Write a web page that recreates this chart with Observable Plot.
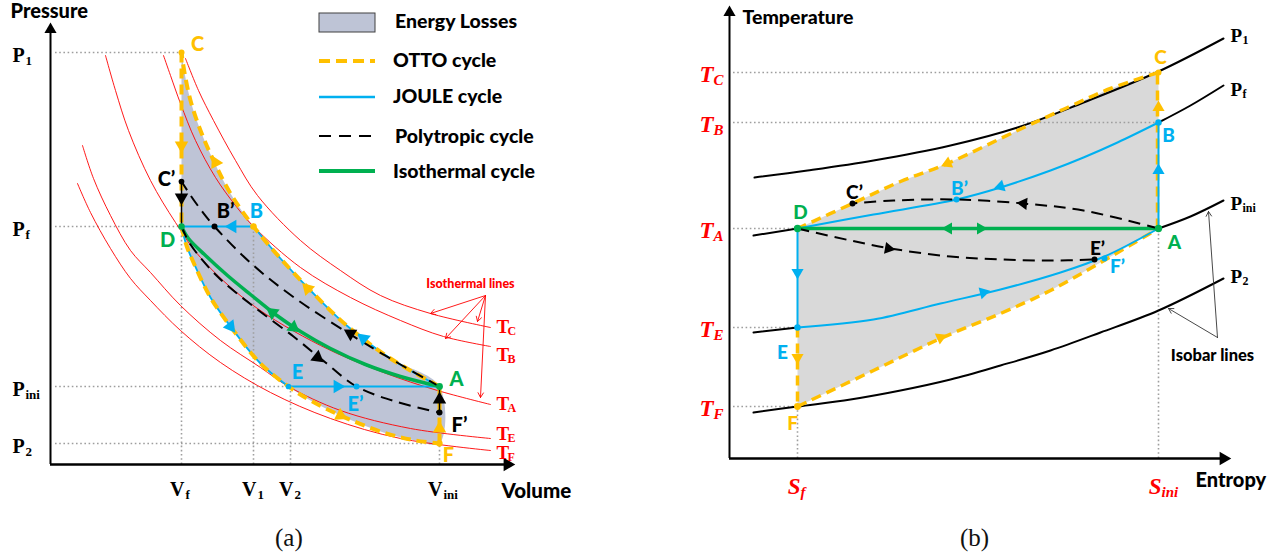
<!DOCTYPE html>
<html><head><meta charset="utf-8">
<script src="https://cdn.jsdelivr.net/npm/d3@7"></script>
<script src="https://cdn.jsdelivr.net/npm/@observablehq/plot@0.6"></script>
<style>
body{margin:0;width:1278px;height:557px;background:#fff;position:relative;overflow:hidden;font-family:Lato,sans-serif;}
#left{position:absolute;left:0;top:0;}
#right{position:absolute;left:640px;top:0;}
#legend{position:absolute;left:0;top:0;}
.cap{position:absolute;top:524px;font-family:"Liberation Serif",serif;font-size:25px;color:#111;}
</style></head><body>
<div id="left"></div><div id="right"></div>
<svg id="legend" width="640" height="190" style="font-family:Lato,sans-serif;font-weight:900;font-size:19.5px">
  <rect x="319" y="13" width="56" height="19" fill="#BEC4D6" stroke="#404040" stroke-width="1"/>
  <text x="395" y="28">Energy Losses</text>
  <line x1="319" x2="375" y1="61" y2="61" stroke="#FFC000" stroke-width="4" stroke-dasharray="11,6"/>
  <text x="393" y="67">OTTO cycle</text>
  <line x1="319" x2="375" y1="97" y2="97" stroke="#00B0F0" stroke-width="2.5"/>
  <text x="393" y="103">JOULE cycle</text>
  <line x1="319" x2="375" y1="136" y2="136" stroke="#000" stroke-width="2" stroke-dasharray="12,8"/>
  <text x="395" y="143">Polytropic cycle</text>
  <line x1="319" x2="375" y1="171" y2="171" stroke="#00B050" stroke-width="4"/>
  <text x="393" y="178">Isothermal cycle</text>
</svg>
<div class="cap" style="left:275px">(a)</div>
<div class="cap" style="left:960px">(b)</div>
<script>
// ================= DATA: (a) Pressure–Volume diagram (arbitrary units) =================
const pvTickP = [412, 238, 78, 21];
const pvTickPSub = ["1", "f", "ini", "2"];
const pvTickPRef = ["C", "D", "E", "F"];
const pvTickV = [131, 203, 240, 389];
const pvTickVSub = ["f", "1", "2", "ini"];
const pvTickVRef = ["D", "B", "E", "F"];

const pvPointName = ["C", "D", "B", "B’", "C’", "A", "E", "E’", "F’", "F"];
const pvPointV = [131, 131, 203, 164, 131, 389, 238, 306, 389, 389];
const pvPointP = [412, 238, 238, 238, 283, 78, 78, 78, 52, 21];

// adiabat A -> C (upper boundary)
const upperV = [389, 340, 295, 260, 230, 203, 180, 163, 150, 140, 134, 131];
const upperP = [78, 106, 140, 174, 206, 238, 271, 304, 334, 364, 392, 412];
// adiabat D -> F (lower boundary)
const lowerV = [131, 136, 143, 160, 183, 210, 238, 260, 290, 333, 365, 389];
const lowerP = [238, 219, 202, 167, 134, 101, 78, 64, 49, 32, 24, 21];
// polytropic A -> B' -> C'
const polyUpV = [389, 350, 300, 245, 203, 164, 145, 131];
const polyUpP = [78, 100, 130, 166, 199, 238, 262, 283];
// polytropic D -> E' -> F'
const polyLoV = [131, 140, 167, 203, 243, 275, 306, 345, 389];
const polyLoP = [238, 220, 188, 158, 128, 102, 78, 63, 52];
// isothermal D -> A
const isoDAV = [131, 138, 155, 177, 200, 225, 250, 280, 315, 350, 389];
const isoDAP = [238, 226, 209, 189, 170, 150, 133, 116, 100, 88, 78];

// red isothermal lines
const isoTCV = [135, 148, 163, 185, 207, 250, 290, 330, 380, 440];
const isoTCP = [406, 374, 344, 304, 269, 224, 194, 169, 151, 137];
const isoTBV = [113, 120, 130, 145, 165, 185, 203, 250, 300, 350, 393, 440];
const isoTBP = [409, 389, 361, 324, 287, 259, 238, 197, 167, 144, 128, 118];
const isoTAV = [55, 65, 78, 100, 125, 150, 200, 270, 333, 387, 440];
const isoTAP = [409, 374, 334, 284, 242, 207, 161, 119, 92, 74, 60];
const isoTEV = [32, 43, 60, 80, 100, 130, 170, 210, 238, 290, 360, 440];
const isoTEP = [319, 286, 249, 214, 192, 159, 124, 97, 78, 54, 36, 26];
const isoTFV = [27, 40, 60, 80, 100, 130, 170, 220, 280, 350, 440];
const isoTFP = [281, 252, 216, 186, 164, 134, 102, 72, 46, 26, 14];
const isoLabelSub = ["C", "B", "A", "E", "F"];
const isoLabelP = [138, 110, 61, 31, 12];

// direction arrows (position + heading in degrees, clockwise from up)
const pvArrowCycle = ["otto","otto","otto","otto","otto","joule","joule","joule","joule","poly","poly","poly","poly","iso","iso"];
const pvArrowV = [131, 165, 257, 290, 389, 182, 313, 180, 287, 131, 389, 300, 267, 222, 243];
const pvArrowP = [319, 302, 176, 49, 36, 238, 126, 138, 78, 267, 65, 131, 107, 152, 137];
const pvArrowDir = [180, 333, 316, 117, 0, 270, 310, 142, 90, 180, 0, 301, 128, 307, 127];

// ================= DATA: (b) Temperature–Entropy diagram (arbitrary units) =================
const tsTickT = [386, 336, 230, 131, 52];
const tsTickTSub = ["C", "B", "A", "E", "F"];
const tsTickTRef = ["C", "B", "D", "E", "F"];
const tsTickS = [68, 429];
const tsTickSSub = ["f", "ini"];
const tsTickSRef = ["F", "A"];

const tsPointName = ["C", "B", "A", "D", "E", "F", "C’", "B’", "E’", "F’"];
const tsPointS = [429, 429, 429, 68, 68, 68, 123, 227, 365, 375];
const tsPointT = [386, 336, 230, 230, 131, 52, 255, 259, 199, 200];

// isobars
const isoP1S = [25, 78, 144, 221, 288, 354, 429, 494];
const isoP1T = [281, 288, 298, 313, 331, 356, 387, 420];
const isoPfLeftS = [24, 68], isoPfLeftT = [223, 230];
const isoPfRightS = [429, 461, 494], isoPfRightT = [336, 353, 373];
const isoPiniLeftS = [24, 68], isoPiniLeftT = [126, 131];
const isoPiniRightS = [429, 461, 494], isoPiniRightT = [230, 242, 258];
const isoP2S = [24, 68, 121, 171, 221, 271, 321, 371, 429, 494];
const isoP2T = [46, 52, 59, 68, 79, 93, 108, 126, 148, 180];
const isobarSub = ["1", "f", "ini", "2"];
const isobarLabelT = [423, 369, 255, 182];

// Joule (cyan) B -> D and E -> A
const jouleBDS = [429, 388, 354, 321, 271, 227, 144, 68];
const jouleBDT = [336, 316, 301, 288, 271, 259, 244, 230];
const jouleEAS = [68, 144, 211, 271, 331, 375, 429];
const jouleEAT = [131, 139, 155, 169, 186, 202, 230];
// Otto (orange) C -> D and F -> A
const ottoCDS = [429, 381, 338, 288, 218, 171, 123, 68];
const ottoCDT = [386, 370, 351, 328, 295, 277, 255, 230];
const ottoFAS = [68, 144, 211, 271, 321, 371, 429];
const ottoFAT = [52, 88, 120, 145, 168, 196, 230];
// polytropic (black dashed)
const polyTsUpS = [429, 354, 294, 227, 164, 123];
const polyTsUpT = [230, 248, 255, 259, 258, 255];
const polyTsLoS = [68, 121, 161, 221, 271, 321, 365];
const polyTsLoT = [230, 218, 210, 202, 199, 198, 199];

const tsArrowCycle = ["otto","otto","otto","otto","joule","joule","joule","joule","poly","poly","iso","iso"];
const tsArrowS = [218, 429, 68, 211, 429, 68, 271, 254, 294, 159, 219, 251];
const tsArrowT = [295, 351, 101, 121, 288, 186, 272, 166, 255, 210, 230, 230];
const tsArrowDir = [246, 0, 180, 66, 0, 180, 253, 76, 276, 100, 270, 90];

// ================= STYLE =================
const ORANGE = "#FFC000", CYAN = "#00B0F0", GREEN = "#00B050", RED = "#FF0000", GUIDE = "#9E9E9E";
const SERIF = "Liberation Serif, serif", SANS = "Lato, sans-serif";
const cycleColor = {otto: ORANGE, joule: CYAN, poly: "#000", iso: GREEN};
const pvPointStyle = {
  "C": {fill: ORANGE, r: 5, color: ORANGE, dx: 16, dy: -8},
  "D": {fill: GREEN, r: 6, color: GREEN, dx: -14, dy: 14},
  "B": {fill: ORANGE, r: 6, color: CYAN, dx: 3, dy: -15},
  "B’": {fill: "#000", r: 5, color: "#000", dx: 11, dy: -15},
  "C’": {fill: "#000", r: 4.5, color: "#000", dx: -15, dy: -2},
  "A": {fill: GREEN, r: 6.5, color: GREEN, dx: 17, dy: -7},
  "E": {fill: CYAN, r: 4.5, color: CYAN, dx: 9, dy: -14},
  "E’": {fill: CYAN, r: 5, color: CYAN, dx: -1, dy: 18},
  "F’": {fill: "#000", r: 5, color: "#000", dx: 20, dy: 13},
  "F": {fill: ORANGE, r: 5.5, color: ORANGE, dx: 9, dy: 12}
};
const tsPointStyle = {
  "C": {fill: ORANGE, r: 3, color: ORANGE, dx: 2, dy: -15},
  "B": {fill: CYAN, r: 3.5, color: CYAN, dx: 10, dy: 13},
  "A": {fill: GREEN, r: 4.5, color: GREEN, dx: 16, dy: 14},
  "D": {fill: GREEN, r: 4.5, color: GREEN, dx: 3, dy: -16},
  "E": {fill: CYAN, r: 3.5, color: CYAN, dx: -15, dy: 25},
  "F": {fill: ORANGE, r: 4, color: ORANGE, dx: -5, dy: 17},
  "C’": {fill: "#000", r: 3, color: "#000", dx: 2, dy: -11},
  "B’": {fill: CYAN, r: 3, color: CYAN, dx: 3, dy: -11},
  "E’": {fill: "#000", r: 3, color: "#000", dx: 3, dy: -11},
  "F’": {fill: CYAN, r: 3, color: CYAN, dx: 13, dy: 8}
};

// ================= HELPERS =================
const pts = (xs, ys) => xs.map((x, i) => ({x, y: ys[i]}));
const seg = (name, xs, ys) => xs.map((x, i) => ({seg: name, x, y: ys[i]}));
const rev = a => a.slice().reverse();

// ================= (a) =================
const pvPoints = pvPointName.map((n, i) => ({name: n, x: pvPointV[i], y: pvPointP[i], ...pvPointStyle[n]}));
const pvAt = n => pvPoints.find(p => p.name === n);
const pvFill = [...rev(pts(upperV, upperP)), ...rev(pts(lowerV, lowerP))];
const ottoPV = [
  ...seg("CD", [pvAt("C").x, pvAt("D").x], [pvAt("C").y, pvAt("D").y]),
  ...seg("DF", lowerV, lowerP),
  ...seg("FA", [pvAt("F").x, pvAt("A").x], [pvAt("F").y, pvAt("A").y]),
  ...seg("AC", upperV, upperP)
];
const bIdx = upperV.indexOf(pvAt("B").x), eIdx = lowerV.indexOf(pvAt("E").x);
const joulePV = [
  ...seg("AB", upperV.slice(0, bIdx + 1), upperP.slice(0, bIdx + 1)),
  ...seg("BD", [pvAt("B").x, pvAt("D").x], [pvAt("B").y, pvAt("D").y]),
  ...seg("DE", lowerV.slice(0, eIdx + 1), lowerP.slice(0, eIdx + 1)),
  ...seg("EA", [pvAt("E").x, pvAt("A").x], [pvAt("E").y, pvAt("A").y])
];
const polyPV = [...seg("up", polyUpV, polyUpP), ...seg("lo", polyLoV, polyLoP)];
const polyVertPV = [
  ...seg("CD", [pvAt("C’").x, pvAt("D").x], [pvAt("C’").y, pvAt("D").y]),
  ...seg("FA", [pvAt("F’").x, pvAt("A").x], [pvAt("F’").y, pvAt("A").y])
];
const redIso = [
  ...seg("C", isoTCV, isoTCP), ...seg("B", isoTBV, isoTBP), ...seg("A", isoTAV, isoTAP),
  ...seg("E", isoTEV, isoTEP), ...seg("F", isoTFV, isoTFP)
];
const pvArrows = pvArrowV.map((v, i) => ({x: v, y: pvArrowP[i], dir: pvArrowDir[i], c: cycleColor[pvArrowCycle[i]]}));
const pvHGuides = pvTickP.map((p, i) => ({y: p, x1: 5, x2: pvAt(pvTickPRef[i]).x}));
const pvVGuides = pvTickV.map((v, i) => ({x: v, y1: 0, y2: pvAt(pvTickVRef[i]).y}));
const pvTicksP = pvTickP.map((p, i) => ({y: p, sub: pvTickPSub[i]}));
const pvTicksV = pvTickV.map((v, i) => ({x: v, sub: pvTickVSub[i]}));
const isoLabels = isoLabelP.map((p, i) => ({y: p, sub: isoLabelSub[i]}));
// annotation: "Isothermal lines" pointing at curves
const isoNoteFrom = {x: 435, y: 169};
const isoNoteTo = [{x: 380, y: 151}, {x: 427, y: 143}, {x: 395, y: 126}, {x: 430, y: 67}];

const pvMaxV = 462, pvMaxP = 439;
const left = Plot.plot({
  width: 640, height: 520, margin: 0,
  x: {domain: [-50, 590], axis: null},
  y: {domain: [-56, 464], axis: null},
  style: {fontFamily: SANS, overflow: "visible"},
  marks: [
    Plot.line(pvFill, {x: "x", y: "y", fill: "#BEC4D6", stroke: "none", curve: "catmull-rom"}),
    Plot.ruleY(pvHGuides, {y: "y", x1: "x1", x2: "x2", stroke: GUIDE, strokeWidth: 1.6, strokeDasharray: "1.6,2.6"}),
    Plot.ruleX(pvVGuides, {x: "x", y1: "y1", y2: "y2", stroke: GUIDE, strokeWidth: 1.6, strokeDasharray: "1.6,2.6"}),
    Plot.line(redIso, {x: "x", y: "y", z: "seg", stroke: RED, strokeWidth: 0.9, curve: "catmull-rom"}),
    Plot.line(joulePV, {x: "x", y: "y", z: "seg", stroke: CYAN, strokeWidth: 1.8, curve: "catmull-rom"}),
    Plot.line(ottoPV, {x: "x", y: "y", z: "seg", stroke: ORANGE, strokeWidth: 4, strokeDasharray: "10,6", strokeLinecap: "butt", curve: "catmull-rom"}),
    Plot.line(pts(isoDAV, isoDAP), {x: "x", y: "y", stroke: GREEN, strokeWidth: 3.5, curve: "catmull-rom"}),
    Plot.line(polyPV, {x: "x", y: "y", z: "seg", stroke: "#000", strokeWidth: 2, strokeDasharray: "12,7", strokeLinecap: "butt", curve: "catmull-rom"}),
    Plot.line(polyVertPV, {x: "x", y: "y", z: "seg", stroke: "#000", strokeWidth: 1.5}),
    Plot.dot(pvArrows, {x: "x", y: "y", symbol: "triangle", r: 5, fill: "c", rotate: "dir", stroke: null}),
    Plot.dot(pvPoints, {x: "x", y: "y", r: "r", fill: "fill", stroke: null}),
    Plot.text(pvPoints, {x: "x", y: "y", text: "name", fill: "color", fontSize: 20, fontWeight: 900}),
    // axes
    Plot.ruleX([0], {y1: 0, y2: pvMaxP, strokeWidth: 2}),
    Plot.ruleY([0], {x1: 0, x2: pvMaxV, strokeWidth: 2.5}),
    Plot.dot([{x: 0, y: pvMaxP - 4}], {x: "x", y: "y", symbol: "triangle", r: 4.5, fill: "#000", stroke: null}),
    Plot.dot([{x: pvMaxV - 5, y: 0}], {x: "x", y: "y", symbol: "triangle", r: 5, fill: "#000", rotate: 90, stroke: null}),
    Plot.text(["Pressure"], {x: -40, y: 453, textAnchor: "start", fontSize: 20, fontWeight: 900}),
    Plot.text(["Volume"], {x: 451, y: -27, textAnchor: "start", fontSize: 20.5, fontWeight: 900}),
    // tick labels
    Plot.text(pvTicksP, {y: "y", text: () => "P", frameAnchor: "left", dx: 12, dy: 3, textAnchor: "start", fontFamily: SERIF, fontWeight: 700, fontSize: 20, fontStyle: d => d.sub === "2" ? "italic" : "normal"}),
    Plot.text(pvTicksP, {y: "y", text: "sub", frameAnchor: "left", dx: 25, dy: 8, textAnchor: "start", fontFamily: SERIF, fontWeight: 700, fontSize: 13}),
    Plot.text(pvTicksV, {x: "x", y: () => -25, text: () => "V", dx: 3, textAnchor: "end", fontFamily: SERIF, fontWeight: 700, fontSize: 20}),
    Plot.text(pvTicksV, {x: "x", y: () => -25, text: "sub", dx: 4, dy: 5, textAnchor: "start", fontFamily: SERIF, fontWeight: 700, fontSize: 13}),
    // isothermal annotation
    Plot.arrow(isoNoteTo, {x1: isoNoteFrom.x, y1: isoNoteFrom.y, x2: "x", y2: "y", stroke: RED, strokeWidth: 0.9, headLength: 9}),
    Plot.text(["Isothermal lines"], {x: 420, y: 181, fill: RED, fontSize: 12.5, fontWeight: 900}),
    Plot.text(isoLabels, {x: () => 446, y: "y", text: () => "T", textAnchor: "start", fill: RED, fontFamily: SERIF, fontWeight: 700, fontSize: 19}),
    Plot.text(isoLabels, {x: () => 457, y: "y", text: "sub", dy: 5, textAnchor: "start", fill: RED, fontFamily: SERIF, fontWeight: 700, fontSize: 12})
  ]
});
document.getElementById("left").append(left);

// ================= (b) =================
const tsPoints = tsPointName.map((n, i) => ({name: n, x: tsPointS[i], y: tsPointT[i], ...tsPointStyle[n]}));
const tsAt = n => tsPoints.find(p => p.name === n);
const tsFill = [...pts(ottoCDS, ottoCDT), ...pts(ottoFAS, ottoFAT)];
const isobars = [
  ...seg("P1", isoP1S, isoP1T), ...seg("PfL", isoPfLeftS, isoPfLeftT), ...seg("PfR", isoPfRightS, isoPfRightT),
  ...seg("PiL", isoPiniLeftS, isoPiniLeftT), ...seg("PiR", isoPiniRightS, isoPiniRightT), ...seg("P2", isoP2S, isoP2T)
];
const ottoTS = [
  ...seg("CD", ottoCDS, ottoCDT),
  ...seg("EF", [tsAt("E").x, tsAt("F").x], [tsAt("E").y, tsAt("F").y]),
  ...seg("FA", ottoFAS, ottoFAT),
  ...seg("AC", [tsAt("A").x - 1, tsAt("C").x - 1], [tsAt("A").y, tsAt("C").y])
];
const jouleTS = [
  ...seg("AB", [tsAt("A").x, tsAt("B").x], [tsAt("A").y, tsAt("B").y]),
  ...seg("BD", jouleBDS, jouleBDT),
  ...seg("DE", [tsAt("D").x, tsAt("E").x], [tsAt("D").y, tsAt("E").y]),
  ...seg("EA", jouleEAS, jouleEAT)
];
const polyTS = [...seg("up", polyTsUpS, polyTsUpT), ...seg("lo", polyTsLoS, polyTsLoT)];
const isoTS = [tsAt("D"), tsAt("A")];
const tsArrows = tsArrowS.map((s, i) => ({x: s, y: tsArrowT[i], dir: tsArrowDir[i], c: cycleColor[tsArrowCycle[i]]}));
const tsHGuides = tsTickT.map((t, i) => ({y: t, x1: 4, x2: tsAt(tsTickTRef[i]).x}));
const tsVGuides = tsTickS.map((s, i) => ({x: s, y1: 0, y2: tsAt(tsTickSRef[i]).y}));
const tsTicksT = tsTickT.map((t, i) => ({y: t, sub: tsTickTSub[i]}));
const tsTicksS = tsTickS.map((s, i) => ({x: s, sub: tsTickSSub[i]}));
const isobarLabels = isobarLabelT.map((t, i) => ({y: t, sub: isobarSub[i]}));
const barNoteFrom = {x: 488, y: 121};
const barNoteTo = [{x: 439, y: 150}, {x: 479, y: 247}];

const tsMaxS = 499, tsMaxT = 450;
const right = Plot.plot({
  width: 638, height: 520, margin: 0,
  x: {domain: [-89, 549], axis: null},
  y: {domain: [-62, 458], axis: null},
  style: {fontFamily: SANS, overflow: "visible"},
  marks: [
    Plot.line(tsFill, {x: "x", y: "y", fill: "#D9D9D9", stroke: "none"}),
    Plot.ruleY(tsHGuides, {y: "y", x1: "x1", x2: "x2", stroke: GUIDE, strokeWidth: 1.6, strokeDasharray: "1.6,2.6"}),
    Plot.ruleX(tsVGuides, {x: "x", y1: "y1", y2: "y2", stroke: GUIDE, strokeWidth: 1.6, strokeDasharray: "1.6,2.6"}),
    Plot.line(isobars, {x: "x", y: "y", z: "seg", stroke: "#000", strokeWidth: 2, curve: "catmull-rom"}),
    Plot.line(ottoTS, {x: "x", y: "y", z: "seg", stroke: ORANGE, strokeWidth: 3.5, strokeDasharray: "10,6", strokeLinecap: "butt", curve: "catmull-rom"}),
    Plot.line(jouleTS, {x: "x", y: "y", z: "seg", stroke: CYAN, strokeWidth: 2, curve: "catmull-rom"}),
    Plot.line(isoTS, {x: "x", y: "y", stroke: GREEN, strokeWidth: 3.5}),
    Plot.line(polyTS, {x: "x", y: "y", z: "seg", stroke: "#000", strokeWidth: 2, strokeDasharray: "12,7", strokeLinecap: "butt", curve: "catmull-rom"}),
    Plot.dot(tsArrows, {x: "x", y: "y", symbol: "triangle", r: 4.5, fill: "c", rotate: "dir", stroke: null}),
    Plot.dot(tsPoints, {x: "x", y: "y", r: "r", fill: "fill", stroke: null}),
    Plot.text(tsPoints, {x: "x", y: "y", text: "name", fill: "color", fontSize: 19, fontWeight: 900}),
    // axes
    Plot.ruleX([0], {y1: 0, y2: tsMaxT, strokeWidth: 2}),
    Plot.ruleY([0], {x1: 0, x2: tsMaxS, strokeWidth: 2.5}),
    Plot.dot([{x: 0, y: tsMaxT - 4}], {x: "x", y: "y", symbol: "triangle", r: 4.5, fill: "#000", stroke: null}),
    Plot.dot([{x: tsMaxS - 5, y: 0}], {x: "x", y: "y", symbol: "triangle", r: 5, fill: "#000", rotate: 90, stroke: null}),
    Plot.text(["Temperature"], {x: 13, y: 441, textAnchor: "start", fontSize: 19.5, fontWeight: 900}),
    Plot.text(["Entropy"], {x: 466, y: -22, textAnchor: "start", fontSize: 20, fontWeight: 900}),
    // tick labels
    Plot.text(tsTicksT, {y: "y", x: () => -30, text: () => "T", dy: 2, textAnchor: "start", fill: RED, fontFamily: SERIF, fontStyle: "italic", fontWeight: 700, fontSize: 23}),
    Plot.text(tsTicksT, {y: "y", x: () => -16, text: "sub", dy: 8, textAnchor: "start", fill: RED, fontFamily: SERIF, fontStyle: "italic", fontWeight: 700, fontSize: 15}),
    Plot.text(tsTicksS, {x: "x", y: () => -28, text: () => "S", dx: 3, textAnchor: "end", fill: RED, fontFamily: SERIF, fontStyle: "italic", fontWeight: 700, fontSize: 23}),
    Plot.text(tsTicksS, {x: "x", y: () => -28, text: "sub", dx: 3, dy: 6, textAnchor: "start", fill: RED, fontFamily: SERIF, fontStyle: "italic", fontWeight: 700, fontSize: 15}),
    // isobar labels
    Plot.text(isobarLabels, {y: "y", x: () => 501, text: () => "P", textAnchor: "start", fontFamily: SERIF, fontWeight: 700, fontSize: 19}),
    Plot.text(isobarLabels, {y: "y", x: () => 513, text: "sub", dy: 5, textAnchor: "start", fontFamily: SERIF, fontWeight: 700, fontSize: 12}),
    Plot.arrow(barNoteTo, {x1: barNoteFrom.x, y1: barNoteFrom.y, x2: "x", y2: "y", stroke: "#333", strokeWidth: 0.9, headLength: 9}),
    Plot.text(["Isobar lines"], {x: 483, y: 103, fontSize: 16.5, fontWeight: 900})
  ]
});
document.getElementById("right").append(right);

// apply per-label offsets (layout) for point labels
function offsetLabels(svg, points) {
  svg.querySelectorAll("g[aria-label='text']").forEach(g => {
    const texts = g.querySelectorAll("text");
    if (texts.length !== points.length || texts[0].textContent !== points[0].name) return;
    texts.forEach((t, i) => {
      t.setAttribute("dx", points[i].dx);
      t.setAttribute("dy", points[i].dy);
    });
  });
}
offsetLabels(left, pvPoints);
offsetLabels(right, tsPoints);
</script>
</body></html>
